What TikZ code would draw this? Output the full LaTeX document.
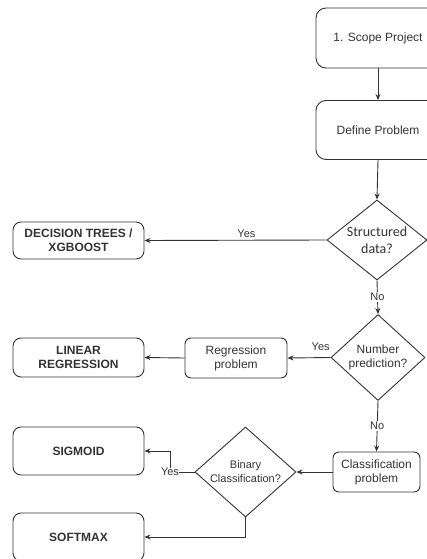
\documentclass[tikz,border=0pt]{standalone}
\usepackage{fontspec}
\setmainfont{Liberation Sans}
\newfontfamily\calib{Carlito}
\usetikzlibrary{shapes.geometric,arrows.meta}
\definecolor{ln}{HTML}{333333}
\definecolor{tx}{HTML}{333333}
\tikzset{
  box/.style={draw=ln, line width=0.9pt, rounded corners=8pt, align=center, text=tx, font=\fontsize{12}{14}\selectfont, inner sep=0pt},
  bigbox/.style={box, rounded corners=10pt, minimum width=124pt, minimum height=60pt},
  outbox/.style={box, minimum width=131pt, font=\fontsize{12}{14}\selectfont\bfseries},
  midbox/.style={box, rounded corners=6pt},
  dec/.style={draw=ln, line width=0.9pt, diamond, inner sep=0pt},
  dtext/.style={align=center, text=tx, inner sep=0pt},
  arr/.style={draw=ln, line width=0.9pt, -{Stealth[length=6pt,width=5pt]}},
  lbl/.style={text=tx, font=\fontsize{11}{12}\selectfont, inner sep=1pt}
}
\begin{document}
\begin{tikzpicture}[x=1pt,y=-1pt]
\useasboundingbox (0,0) rectangle (427,559);
\clip (0,0) rectangle (427,559);
\node[bigbox] (scope) at (378,38) {1. Scope Project};
\node[bigbox, minimum height=59pt] (define) at (378,130) {Define Problem};
\node[dec, minimum width=100pt, minimum height=80pt,
  label={[dtext, font=\calib\fontsize{14}{17}\selectfont]center:Structured\\data?}] (struct) at (377,240) {};
\node[outbox, minimum height=37pt] (dtree) at (78.5,240.5) {DECISION TREES /\\XGBOOST};
\node[dec, minimum width=94pt, minimum height=86pt,
  label={[dtext, font=\fontsize{12}{14}\selectfont]center:Number\\prediction?}] (num) at (378,357.5) {};
\node[midbox, minimum width=102pt, minimum height=40pt] (reg) at (236,358) {Regression\\problem};
\node[outbox, minimum height=39pt] (lin) at (78.5,357.5) {LINEAR\\REGRESSION};
\node[midbox, minimum width=87pt, minimum height=40pt] (cls) at (376.5,472) {Classification\\problem};
\node[dec, minimum width=101pt, minimum height=90pt,
  label={[dtext, font=\fontsize{11}{14}\selectfont]center:Binary\\Classification?}] (bin) at (245.5,472) {};
\node[outbox, minimum height=48pt] (sig) at (78.5,451) {SIGMOID};
\node[outbox, minimum height=48pt] (soft) at (78.5,537) {SOFTMAX};
\coordinate (yc) at (170,472);

\draw[arr] (scope.south) -- (define.north);
\draw[arr] (define.south) -- (struct.north);
\draw[arr] (struct.west) -- node[lbl, above=1pt, pos=0.44] {Yes} (dtree.east);
\draw[arr] (struct.south) -- node[lbl, fill=white] {No} (num.north);
\draw[arr] (num.west) -- node[lbl, above=6pt, pos=0.23] {Yes} (reg.east);
\draw[arr] (reg.west) -- (lin.east);
\draw[arr] (num.south) -- node[lbl, fill=white] {No} (cls.north);
\draw[arr] (cls.west) -- (bin.east);
\draw[arr] (bin.west) -- (yc) |- (sig.east);
\node[lbl, fill=white, inner sep=0.5pt] (yes3) at (yc) {Yes};
\draw[arr] (bin.south) |- (soft.east);
\end{tikzpicture}
\end{document}
